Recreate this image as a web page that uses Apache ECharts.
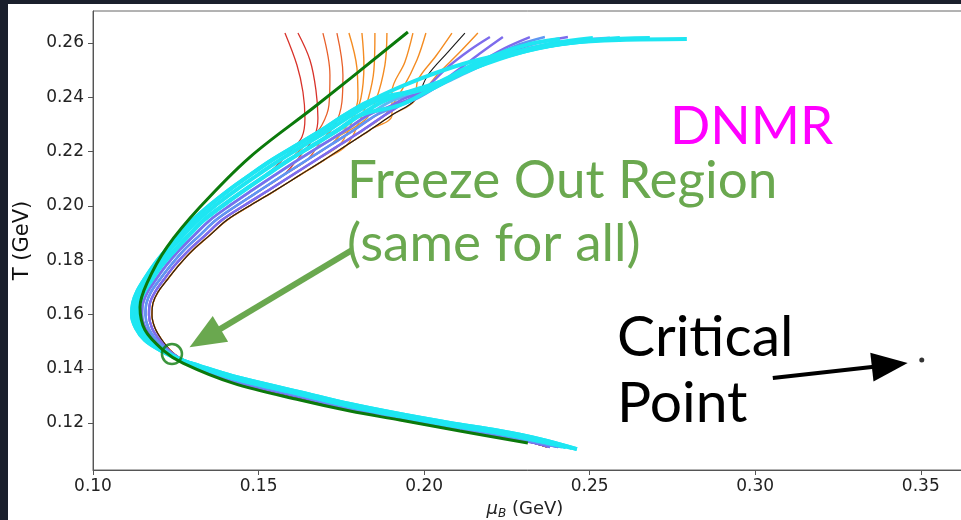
<!DOCTYPE html>
<html><head><meta charset="utf-8">
<script src="https://cdn.jsdelivr.net/npm/echarts@6/dist/echarts.min.js"></script>
<style>
html,body{margin:0;padding:0;background:#1a1f2c;width:961px;height:520px;overflow:hidden}
#chart{position:absolute;left:8px;top:4px;width:953px;height:516px;background:#fff}
</style></head><body><div id="chart"></div>
<script>
// ---- tick labels ----
const xTicks = [0.10, 0.15, 0.20, 0.25, 0.30, 0.35];
const yTicks = [0.12, 0.14, 0.16, 0.18, 0.20, 0.22, 0.24, 0.26];

// ---- shared bundle lanes (mu_B, T): upper arm -> vertex -> lower arm ----
const laneOuter = [[0.18424,0.23900],[0.17609,0.23347],[0.16914,0.22794],[0.16159,0.22242],[0.15405,0.21689],[0.14740,0.21136],[0.14106,0.20584],[0.13533,0.20031],[0.13019,0.19478],[0.12597,0.18926],[0.12204,0.18373],[0.11842,0.17820],[0.11540,0.17268],[0.11328,0.16825],[0.11208,0.16420],[0.11178,0.15978],[0.11298,0.15499],[0.11570,0.15057],[0.12023,0.14689],[0.12506,0.14393],[0.13231,0.14099],[0.14227,0.13730],[0.16250,0.13141],[0.17760,0.12699],[0.19269,0.12330],[0.20779,0.12001],[0.22289,0.11704],[0.23496,0.11409],[0.24614,0.11041]];
const laneA = [[0.18620,0.23900],[0.17820,0.23347],[0.17126,0.22794],[0.16386,0.22242],[0.15646,0.21689],[0.14967,0.21136],[0.14318,0.20584],[0.13714,0.20031],[0.13170,0.19478],[0.12732,0.18926],[0.12325,0.18373],[0.11947,0.17820],[0.11646,0.17268],[0.11419,0.16825],[0.11298,0.16420],[0.11268,0.15978],[0.11389,0.15499],[0.11646,0.15057],[0.12068,0.14689],[0.12521,0.14393],[0.13231,0.14081],[0.14227,0.13693],[0.16250,0.13104],[0.17760,0.12662],[0.19269,0.12293],[0.20779,0.11964],[0.22289,0.11667],[0.23496,0.11372],[0.24462,0.11077]];
const laneQ1 = [[0.18847,0.23900],[0.18077,0.23347],[0.17397,0.22794],[0.16658,0.22242],[0.15918,0.21689],[0.15238,0.21136],[0.14574,0.20584],[0.13940,0.20031],[0.13351,0.19478],[0.12899,0.18926],[0.12476,0.18373],[0.12083,0.17820],[0.11766,0.17268],[0.11540,0.16825],[0.11404,0.16420],[0.11374,0.15978],[0.11495,0.15499],[0.11736,0.15057],[0.12114,0.14689],[0.12536,0.14393],[0.13231,0.14062],[0.14227,0.13656],[0.16250,0.13067],[0.17760,0.12625],[0.19269,0.12256],[0.20779,0.11927],[0.22289,0.11630],[0.23496,0.11335],[0.24281,0.11114]];
const laneMid = [[0.19073,0.23900],[0.18318,0.23347],[0.17639,0.22794],[0.16914,0.22242],[0.16190,0.21689],[0.15495,0.21136],[0.14816,0.20584],[0.14152,0.20031],[0.13533,0.19478],[0.13065,0.18926],[0.12612,0.18373],[0.12219,0.17820],[0.11887,0.17268],[0.11646,0.16825],[0.11510,0.16420],[0.11479,0.15978],[0.11585,0.15499],[0.11827,0.15057],[0.12174,0.14689],[0.12566,0.14393],[0.13231,0.14044],[0.14227,0.13619],[0.16250,0.13030],[0.17760,0.12588],[0.19269,0.12219],[0.20779,0.11890],[0.22289,0.11593],[0.23496,0.11298],[0.24161,0.11114]];
const laneQ2 = [[0.19300,0.23900],[0.18560,0.23347],[0.17880,0.22794],[0.17171,0.22242],[0.16461,0.21689],[0.15752,0.21136],[0.15057,0.20584],[0.14363,0.20031],[0.13714,0.19478],[0.13231,0.18926],[0.12748,0.18373],[0.12355,0.17820],[0.12008,0.17268],[0.11751,0.16825],[0.11615,0.16420],[0.11585,0.15978],[0.11676,0.15499],[0.11917,0.15057],[0.12234,0.14689],[0.12597,0.14393],[0.13231,0.14025],[0.14227,0.13583],[0.16250,0.12993],[0.17760,0.12552],[0.19269,0.12182],[0.20779,0.11853],[0.22289,0.11556],[0.23496,0.11262],[0.24040,0.11114]];
const laneQ3 = [[0.19526,0.23900],[0.18816,0.23347],[0.18152,0.22794],[0.17443,0.22242],[0.16733,0.21689],[0.16024,0.21136],[0.15314,0.20584],[0.14589,0.20031],[0.13895,0.19478],[0.13397,0.18926],[0.12899,0.18373],[0.12476,0.17820],[0.12129,0.17268],[0.11872,0.16825],[0.11721,0.16420],[0.11691,0.15978],[0.11781,0.15499],[0.12008,0.15057],[0.12280,0.14689],[0.12612,0.14393],[0.13231,0.14007],[0.14227,0.13546],[0.16250,0.12957],[0.17760,0.12515],[0.19269,0.12146],[0.20779,0.11817],[0.22289,0.11520],[0.23345,0.11262],[0.23798,0.11114]];
const laneInner = [[0.19722,0.23900],[0.19028,0.23347],[0.18363,0.22794],[0.17669,0.22242],[0.16975,0.21689],[0.16250,0.21136],[0.15525,0.20584],[0.14770,0.20031],[0.14046,0.19478],[0.13533,0.18926],[0.13019,0.18373],[0.12597,0.17820],[0.12234,0.17268],[0.11963,0.16825],[0.11812,0.16420],[0.11781,0.15978],[0.11872,0.15499],[0.12083,0.15057],[0.12325,0.14689],[0.12627,0.14393],[0.13231,0.13988],[0.14227,0.13509],[0.16250,0.12920],[0.17760,0.12478],[0.19269,0.12109],[0.20779,0.11780],[0.22289,0.11483],[0.23194,0.11298],[0.23707,0.11114]];

// ---- starting segments of each trajectory ----
const topR1 = [[0.15797,0.26368],[0.16159,0.25189],[0.16341,0.24195],[0.16401,0.23237],[0.16310,0.22536],[0.15948,0.21984]];
const topR2 = [[0.16190,0.26368],[0.16552,0.25374],[0.16733,0.24268],[0.16793,0.23237],[0.16703,0.22610],[0.16401,0.22058]];
const topO1 = [[0.16944,0.26368],[0.17156,0.24821],[0.17126,0.23716],[0.16914,0.22979],[0.16552,0.22426]];
const topO2 = [[0.17367,0.26368],[0.17548,0.24821],[0.17518,0.23826],[0.17307,0.22979],[0.16914,0.22426]];
const topO3 = [[0.17730,0.26368],[0.17971,0.25079],[0.18001,0.23973],[0.17820,0.23237],[0.17458,0.22610]];
const topO4 = [[0.18122,0.26368],[0.18182,0.25189],[0.18092,0.23973],[0.17820,0.23089]];
const topO5 = [[0.18514,0.26368],[0.18484,0.25005],[0.18303,0.23900],[0.18062,0.23163]];
const topO6 = [[0.18877,0.26368],[0.18816,0.25189],[0.18545,0.23900],[0.18213,0.23163]];
const topO7 = [[0.19662,0.26368],[0.19420,0.25300],[0.19028,0.24195]];
const topO8 = [[0.20054,0.26368],[0.19783,0.25374],[0.19360,0.24342]];
const topO9 = [[0.20840,0.26368],[0.20356,0.25521],[0.19813,0.24637]];
const topO10 = [[0.21624,0.26368],[0.21081,0.25668],[0.20477,0.24931],[0.19813,0.24084]];
const topK = [[0.21232,0.26368],[0.20719,0.25668],[0.20115,0.24821]];
const topPa = [[0.21987,0.26221],[0.21383,0.25742],[0.20719,0.25116],[0.20115,0.24416]];
const topPb = [[0.22379,0.26221],[0.21745,0.25668],[0.21020,0.25005],[0.20236,0.24342]];
const topPc = [[0.23194,0.26221],[0.22440,0.25816],[0.21534,0.25189],[0.20628,0.24563]];
const topPd = [[0.24342,0.26221],[0.23194,0.25926],[0.21987,0.25374],[0.20930,0.24747],[0.20024,0.24158]];
const topB = [[0.23647,0.26221],[0.22741,0.25889],[0.21685,0.25300],[0.20719,0.24637],[0.19813,0.23973]];
const topCe = [[0.25097,0.26184],[0.23798,0.25963],[0.22440,0.25520],[0.21232,0.24931],[0.20175,0.24268],[0.19269,0.23716]];
const topCf = [[0.25912,0.26184],[0.24553,0.26037],[0.23194,0.25742],[0.21836,0.25226],[0.20628,0.24637]];
const topCg = [[0.27935,0.26147],[0.25912,0.26111],[0.24402,0.26000],[0.22893,0.25705],[0.21383,0.25300],[0.20175,0.24821],[0.19269,0.24379]];
const topCh = [[0.26818,0.26184],[0.25308,0.26111],[0.23798,0.25890],[0.22289,0.25447],[0.21081,0.24931],[0.20024,0.24342]];
const topCi = [[0.24100,0.26147],[0.23194,0.25963],[0.22138,0.25558],[0.21141,0.25005],[0.20326,0.24416]];
const topCj = [[0.25610,0.26184],[0.24402,0.26074],[0.23194,0.25816],[0.21987,0.25300],[0.20930,0.24711],[0.20024,0.24195]];

// ---- freeze-out curve, markers, annotations ----
const freezeOut = [[0.19511,0.26405],[0.16763,0.23716],[0.14740,0.21800],[0.13231,0.19957],[0.12234,0.18483],[0.11630,0.17157],[0.11419,0.16273],[0.11570,0.15425],[0.12114,0.14689],[0.12717,0.14209],[0.14227,0.13473],[0.16250,0.12846],[0.17760,0.12441],[0.19269,0.12109],[0.21081,0.11704],[0.23134,0.11262]];
const freezePoint = [[0.12385,0.14541]];
const criticalPoint = [[0.3503,0.1432]];
const greenArrow = [[0.17820,0.18373],[0.13382,0.15131]];
const blackArrow = [[0.30531,0.13657],[0.34064,0.14136]];

const RED = '#d8322a', REDOR = '#e8602a', ORANGE = '#f48c22', BLACK = '#1a1a1a',
      PURPLE = '#7d6cec', BLUE = '#5f97f2', CYAN = '#1ee6f2', LBLUE = '#5cb8f4', DGREEN = '#0b7a0b', LGREEN = '#6aa84f';

function traj(top, lane, from, color, width, z) {
  return { type: 'line', data: top.concat(lane.slice(from)), showSymbol: false, symbol: 'none',
    smooth: 0.35, lineStyle: { color: color, width: width }, z: z, silent: true, animation: false };
}

const series = [
  traj(topR1, laneQ1, 5, RED, 1.3, 2),
  traj(topR2, laneQ2, 5, RED, 1.3, 2),
  traj(topO1, laneQ1, 4, REDOR, 1.3, 2),
  traj(topO2, laneQ2, 4, REDOR, 1.3, 2),
  traj(topO3, laneQ2, 3, ORANGE, 1.4, 2),
  traj(topO4, laneQ3, 3, ORANGE, 1.4, 2),
  traj(topO5, laneInner, 3, ORANGE, 1.4, 2),
  traj(topO6, laneMid, 3, ORANGE, 1.4, 2),
  traj(topO7, laneInner, 1, ORANGE, 1.4, 2),
  traj(topO8, laneQ3, 1, ORANGE, 1.4, 2),
  traj(topO9, laneInner, 0, ORANGE, 1.4, 2),
  traj(topO10, laneQ2, 1, ORANGE, 1.4, 2),
  traj(topK, laneInner, 0, BLACK, 1.1, 3),
  traj(topCj, laneMid, 0, LBLUE, 3, 3),
  traj(topPa, laneQ3, 0, PURPLE, 2.4, 4),
  traj(topPb, laneQ2, 0, PURPLE, 2.4, 4),
  traj(topPc, laneQ3, 0, PURPLE, 2.4, 4),
  traj(topPd, laneMid, 1, PURPLE, 2.4, 4),
  traj(topB, laneQ2, 1, BLUE, 2.4, 4),
  traj(topCe, laneQ1, 1, CYAN, 4, 5),
  traj(topCf, laneQ1, 0, CYAN, 4, 5),
  traj(topCi, laneA, 0, CYAN, 4, 5),
  traj(topCg, laneOuter, 0, CYAN, 4, 5),
  traj(topCh, laneOuter, 0, CYAN, 4, 5),
  { type: 'line', data: freezeOut, showSymbol: false, symbol: 'none', smooth: 0.35,
    lineStyle: { color: DGREEN, width: 3 }, z: 10, silent: true, animation: false },
  { type: 'scatter', data: freezePoint, symbol: 'circle', symbolSize: 20, z: 11, silent: true, animation: false,
    itemStyle: { color: 'rgba(0,0,0,0)', borderColor: DGREEN, borderWidth: 2.5 },
    markLine: { silent: true, animation: false, symbol: ['none', 'triangle'], symbolSize: [30, 36],
      label: { show: false }, lineStyle: { type: 'solid', width: 6, color: LGREEN },
      data: [[{ coord: greenArrow[0] }, { coord: greenArrow[1] }]] } },
  { type: 'scatter', data: criticalPoint, symbol: 'circle', symbolSize: 5, z: 11, silent: true, animation: false,
    itemStyle: { color: '#000' },
    markLine: { silent: true, animation: false, symbol: ['none', 'triangle'], symbolSize: [29, 36],
      label: { show: false }, lineStyle: { type: 'solid', width: 4, color: '#000' },
      data: [[{ coord: blackArrow[0] }, { coord: blackArrow[1] }]] } }
];

const tickFont = { fontFamily: 'DejaVu Sans', fontSize: 17, color: '#222' };
const option = {
  animation: false,
  backgroundColor: '#ffffff',
  grid: { left: 85, top: 7, width: 894, height: 459, show: true, borderColor: '#666', borderWidth: 1,
    backgroundColor: 'transparent', outerBoundsMode: 'none', containLabel: false },
  xAxis: {
    type: 'value', min: 0.1, max: 0.37, interval: 0.05,
    axisLine: { show: true, lineStyle: { color: '#555', width: 1 } },
    axisTick: { show: true, length: 5, lineStyle: { color: '#555' }, customValues: xTicks },
    axisLabel: Object.assign({ customValues: xTicks, margin: 8, formatter: v => Number(v).toFixed(2) }, tickFont),
    splitLine: { show: false },
    name: '{m|μ}{s|B} (GeV)', nameLocation: 'middle', nameGap: 28,
    nameTextStyle: { fontFamily: 'DejaVu Sans', fontSize: 18, color: '#222', padding: [0, 30, 0, 0],
      rich: { m: { fontFamily: 'DejaVu Sans', fontStyle: 'italic', fontSize: 18, color: '#222' },
              s: { fontFamily: 'DejaVu Sans', fontStyle: 'italic', fontSize: 12, color: '#222', padding: [9, 0, 0, 0] } } }
  },
  yAxis: {
    type: 'value', min: 0.1027, max: 0.2718,
    axisLine: { show: true, lineStyle: { color: '#555', width: 1 } },
    axisTick: { show: true, length: 5, lineStyle: { color: '#555' }, customValues: yTicks },
    axisLabel: Object.assign({ customValues: yTicks, margin: 9, formatter: v => Number(v).toFixed(2) }, tickFont),
    splitLine: { show: false },
    name: 'T (GeV)', nameLocation: 'middle', nameGap: 60,
    nameTextStyle: { fontFamily: 'DejaVu Sans', fontSize: 21, color: '#111' }
  },
  graphic: [
    { type: 'text', x: 662, y: 123, silent: true, style: { text: 'DNMR', fontFamily: 'Lato', fontSize: 53, fill: '#ff00ff', verticalAlign: 'middle' } },
    { type: 'text', x: 339, y: 177, silent: true, style: { text: 'Freeze Out Region', fontFamily: 'Lato', fontSize: 53, fill: LGREEN, verticalAlign: 'middle' } },
    { type: 'text', x: 339, y: 240, silent: true, style: { text: '(same for all)', fontFamily: 'Lato', fontSize: 53, fill: LGREEN, verticalAlign: 'middle' } },
    { type: 'text', x: 609, y: 334, silent: true, style: { text: 'Critical', fontFamily: 'Lato', fontSize: 57, fill: '#000', verticalAlign: 'middle' } },
    { type: 'text', x: 609, y: 400, silent: true, style: { text: 'Point', fontFamily: 'Lato', fontSize: 57, fill: '#000', verticalAlign: 'middle' } }
  ],
  series: series
};
const chart = echarts.init(document.getElementById('chart'), null, { renderer: 'canvas' });
chart.setOption(option);
</script></body></html>
